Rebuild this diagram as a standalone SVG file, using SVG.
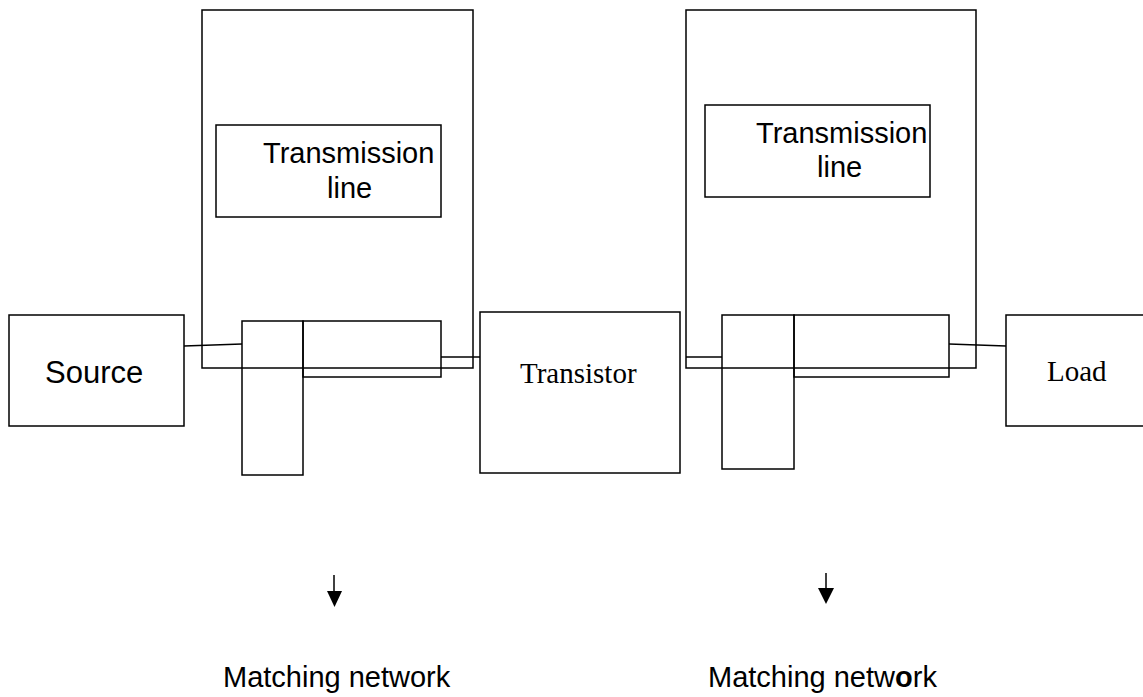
<svg xmlns="http://www.w3.org/2000/svg" width="1143" height="697" viewBox="0 0 1143 697">
<style>
.b{fill:none;stroke:#000;stroke-width:1.5}
.w{fill:#fff;stroke:#000;stroke-width:1.5}
.c{fill:none;stroke:#000;stroke-width:1.5}
.s{font-family:"Liberation Sans",Arial,sans-serif;fill:#000}
.t{font-family:"Liberation Serif","Times New Roman",serif;fill:#000}
</style>
<rect width="1143" height="697" fill="#fff"/>
<g id="frame-left"><rect class="b" x="202" y="10" width="271" height="358"/></g>
<g id="frame-right"><rect class="b" x="686" y="10" width="290" height="358"/></g>
<g id="tline-left">
<rect class="b" x="216" y="125" width="225" height="92"/>
<text class="s" x="263" y="163" font-size="29">Transmission</text>
<text class="s" x="327" y="198" font-size="29">line</text>
</g>
<g id="tline-right">
<rect class="b" x="705" y="105" width="225" height="92"/>
<text class="s" x="756" y="143" font-size="29">Transmission</text>
<text class="s" x="817" y="177" font-size="29">line</text>
</g>
<g id="source">
<rect class="b" x="9" y="315" width="175" height="111"/>
<text class="s" x="45" y="383" font-size="31">Source</text>
</g>
<g id="stub-left"><rect class="b" x="242" y="321" width="61" height="154"/></g>
<g id="line-left"><rect class="b" x="303" y="321" width="138" height="56"/></g>
<g id="transistor">
<rect class="b" x="480" y="312" width="200" height="161"/>
<text class="t" x="520" y="383" font-size="29">Transistor</text>
</g>
<g id="stub-right"><rect class="b" x="722" y="315" width="72" height="154"/></g>
<g id="line-right"><rect class="b" x="794" y="315" width="155" height="62"/></g>
<g id="load">
<rect class="b" x="1006" y="315" width="140" height="111"/>
<text class="t" x="1047" y="381" font-size="29">Load</text>
</g>
<g id="label-left"><text class="s" x="223" y="687" font-size="29">Matching network</text></g>
<g id="label-right"><text class="s" x="708" y="687" font-size="29">Matching netw<tspan font-weight="bold">o</tspan>rk</text></g>
<g id="connectors">
<line class="c" x1="184" y1="346" x2="242" y2="344"/>
<line class="c" x1="441" y1="357" x2="480" y2="357"/>
<line class="c" x1="686" y1="357" x2="722" y2="357"/>
<line class="c" x1="949" y1="344" x2="1006" y2="346"/>
<line class="c" x1="334" y1="575" x2="334" y2="592"/>
<polygon points="327,591 342,591 334.5,607" fill="#000"/>
<line class="c" x1="826" y1="573" x2="826" y2="589"/>
<polygon points="818,588 834,588 826,604" fill="#000"/>
</g>
</svg>
